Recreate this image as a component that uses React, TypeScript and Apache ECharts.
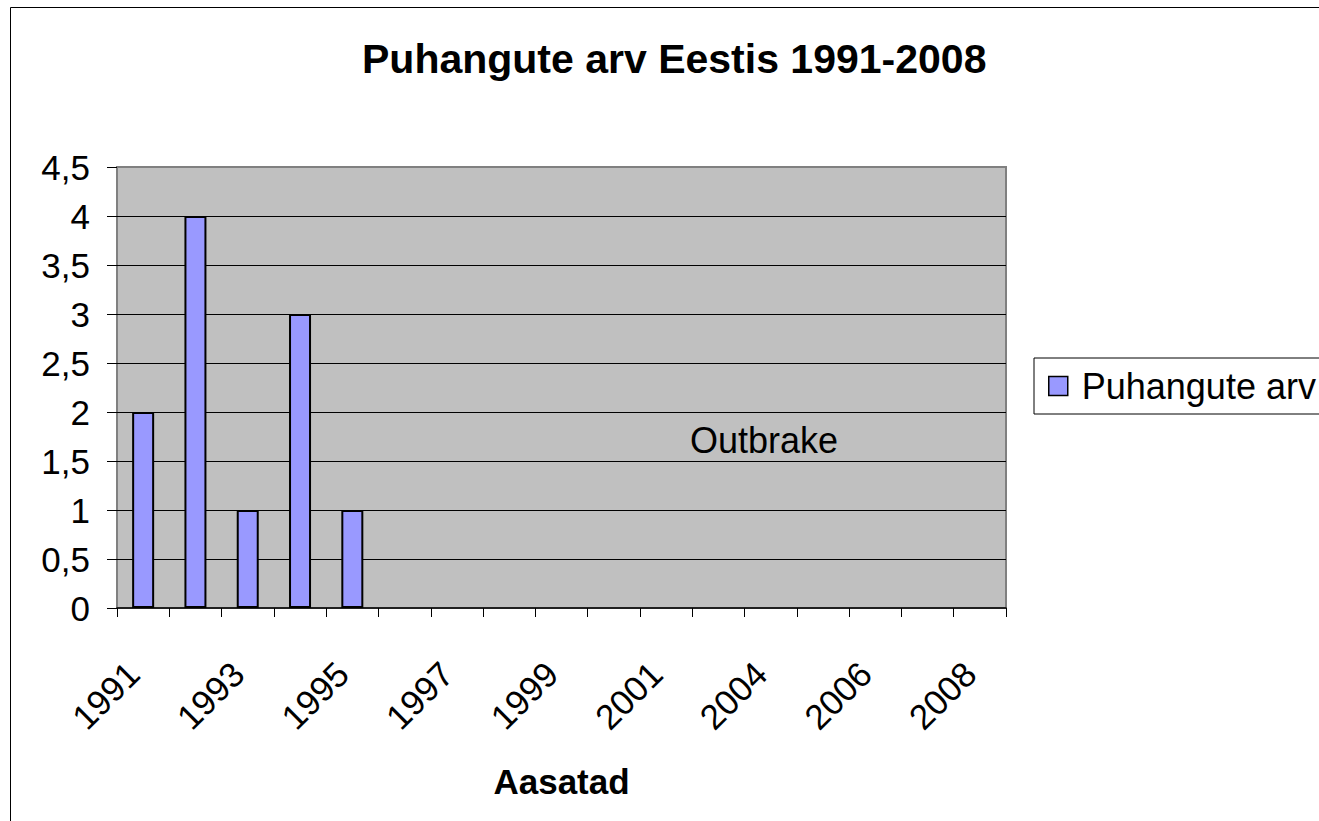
import React, { useEffect, useRef } from "react";
import * as echarts from "echarts";

const categories = ["1991","1992","1993","1994","1995","1996","1997","1998","1999","2000","2001","2002","2004","2005","2006","2007","2008"];
const values = [2, 4, 1, 3, 1, 0, 0, 0, 0, 0, 0, 0, 0, 0, 0, 0, 0];
const seriesName = "Puhangute arv";
const titleText = "Puhangute arv Eestis 1991-2008";
const xTitle = "Aasatad";
const noteText = "Outbrake";
const yMin = 0;
const yMax = 4.5;
const yStep = 0.5;

const FONT = "'Liberation Sans', Arial, sans-serif";

export default function App() {
  const ref = useRef<HTMLDivElement>(null);
  useEffect(() => {
    if (!ref.current) return;
    const chart = echarts.init(ref.current, undefined, { renderer: "svg" });
    const barData = values.map((v) => (v === 0 ? { value: v, itemStyle: { borderWidth: 0 } } : v));
    chart.setOption({
      animation: false,
      backgroundColor: "#ffffff",
      textStyle: { fontFamily: FONT, color: "#000" },
      title: {
        text: titleText,
        left: 362,
        top: 38,
        padding: 0,
        textStyle: { fontFamily: FONT, fontSize: 41, fontWeight: "bold", color: "#000" },
      },
      legend: {
        left: 1034,
        top: 358,
        padding: [10, 40, 10, 14],
        borderColor: "#000",
        borderWidth: 1,
        backgroundColor: "#fff",
        itemWidth: 19,
        itemHeight: 19,
        icon: "rect",
        itemStyle: { borderColor: "#000", borderWidth: 1.5 },
        textStyle: { fontFamily: FONT, fontSize: 36, color: "#000", padding: [0, 0, 0, 9] },
        data: [seriesName],
      },
      grid: {
        left: 117,
        top: 167,
        width: 889,
        height: 441,
        show: true,
        backgroundColor: "#c0c0c0",
        borderColor: "#808080",
        borderWidth: 2,
        containLabel: false,
      },
      xAxis: {
        type: "category",
        data: categories,
        name: xTitle,
        nameLocation: "middle",
        nameGap: 156,
        nameTextStyle: { fontFamily: FONT, fontSize: 35, fontWeight: "bold", color: "#000" },
        axisLine: { show: true, lineStyle: { color: "#000", width: 1.5 } },
        axisTick: { show: true, interval: 0, length: 9, lineStyle: { color: "#000", width: 1 } },
        axisLabel: {
          interval: 1,
          rotate: 45,
          margin: 50,
          padding: [0, 14, 0, 0],
          fontFamily: FONT,
          fontSize: 35,
          color: "#000",
        },
        splitLine: { show: false },
      },
      yAxis: {
        type: "value",
        min: yMin,
        max: yMax,
        interval: yStep,
        axisLine: { show: false },
        axisTick: { show: true, length: 10, lineStyle: { color: "#000", width: 1 } },
        axisLabel: {
          margin: 27,
          fontFamily: FONT,
          fontSize: 35,
          color: "#000",
          formatter: (v: number) => String(v).replace(".", ","),
        },
        splitLine: { show: true, showMinLine: false, showMaxLine: false, lineStyle: { color: "#000", width: 1 } },
      },
      series: [
        {
          name: seriesName,
          type: "bar",
          data: barData,
          barWidth: 22,
          itemStyle: { color: "#9999ff", borderColor: "#000", borderWidth: 2 },
        },
      ],
      graphic: [
        {
          type: "rect",
          left: 8,
          top: 5,
          shape: { x: 0, y: 0, width: 1400, height: 1000 },
          style: { fill: "none", stroke: "#000", lineWidth: 1 },
          silent: true,
          z: -1,
        },
        {
          type: "text",
          x: 690,
          y: 440,
          style: { text: noteText, fontFamily: FONT, fontSize: 36, fill: "#000", verticalAlign: "middle", align: "left" },
          z: 10,
        },
      ],
    });
    return () => chart.dispose();
  }, []);
  return <div ref={ref} style={{ position: "fixed", left: 0, top: 0, width: 1319, height: 821 }} />;
}
